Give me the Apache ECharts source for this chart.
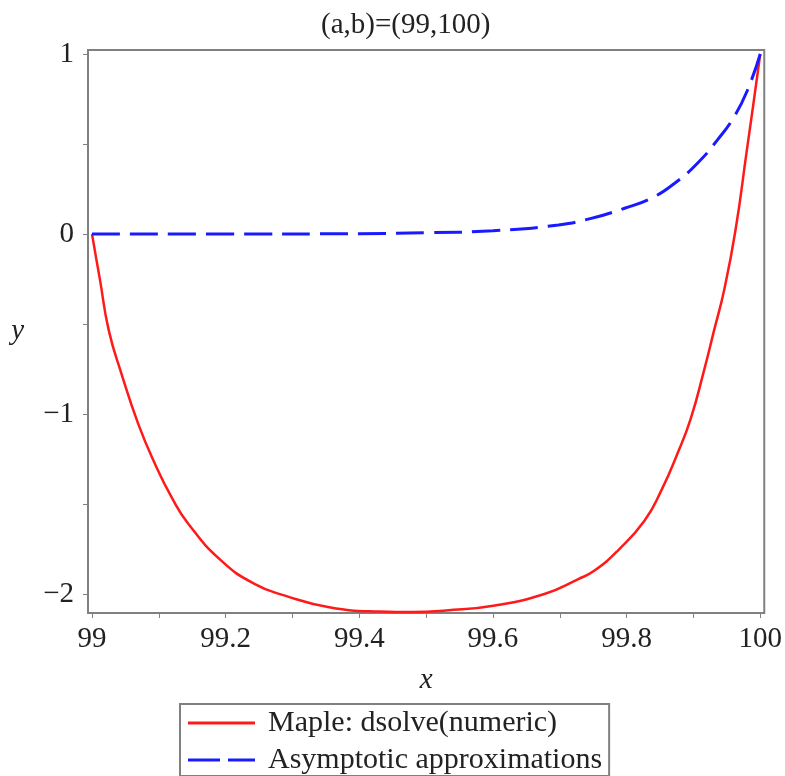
<!DOCTYPE html>
<html>
<head>
<meta charset="utf-8">
<script src="https://cdn.jsdelivr.net/npm/echarts@6/dist/echarts.min.js"></script>
<style>
  html, body { margin: 0; padding: 0; background: #fff; }
</style>
</head>
<body>
<div id="chart" style="width: 785px;height:776px;"></div>
<script>
// values
var redX = [99, 99.006, 99.012, 99.025, 99.044, 99.069, 99.094, 99.119, 99.144, 99.193, 99.243, 99.29, 99.355, 99.43, 99.48, 99.53, 99.603, 99.678, 99.727, 99.752, 99.787, 99.827, 99.852, 99.876, 99.896, 99.916, 99.931, 99.946, 99.963, 99.98, 99.99, 100]
var redY = [0, -0.13, -0.256, -0.534, -0.775, -1.053, -1.275, -1.461, -1.609, -1.813, -1.943, -2.01, -2.073, -2.097, -2.1, -2.091, -2.063, -1.998, -1.918, -1.869, -1.758, -1.591, -1.424, -1.22, -1.025, -0.756, -0.534, -0.311, 0.022, 0.467, 0.73, 1]
var blueX = [99, 99.2, 99.4, 99.5, 99.6, 99.698, 99.747, 99.797, 99.837, 99.872, 99.906, 99.936, 99.961, 99.981, 100]
var blueY = [0, 0, 0.002, 0.007, 0.018, 0.05, 0.087, 0.143, 0.199, 0.282, 0.393, 0.523, 0.652, 0.8, 1]
var xTicks = [99, 99.1, 99.2, 99.3, 99.4, 99.5, 99.6, 99.7, 99.8, 99.9, 100]
var xLabels = [99, 99.2, 99.4, 99.6, 99.8, 100]
var yTicks = [-2, -1.5, -1, -0.5, 0, 0.5, 1]
var yLabels = [-2, -1, 0, 1]

function pairs(xs, ys) {
  var out = []
  for (var i = 0; i < xs.length; i++) {
    out.push([xs[i], ys[i]])
  }
  return out
}

var font = 'Liberation Serif'
var chart = echarts.init(document.getElementById('chart'))
var option = {
  animation: false,
  title: {
    text: '(a,b)=(99,100)',
    left: 316,
    top: 6,
    textStyle: { fontFamily: font, fontSize: 29, fontWeight: 'normal', color: '#222' }
  },
  grid: {
    left: 88, right: 18, top: 50, bottom: 163,
    show: true,
    borderColor: '#808080',
    borderWidth: 2
  },
  legend: {
    orient: 'vertical',
    left: 180,
    top: 704,
    padding: [4, 0, 1, 8],
    itemGap: 7,
    itemWidth: 67,
    itemHeight: 14,
    borderColor: '#808080',
    borderWidth: 2,
    borderRadius: 0,
    textStyle: { fontFamily: font, fontSize: 30, lineHeight: 28, color: '#222', padding: [0, 7, 0, 8] },
    data: [
      { name: 'Maple: dsolve(numeric)', icon: 'path://M0,0h67v3h-67z' },
      { name: 'Asymptotic approximations', icon: 'path://M0,0h32v3h-32z M40,0h27v3h-27z' }
    ]
  },
  xAxis: {
    type: 'value',
    min: 98.994,
    max: 100.006,
    name: 'x',
    nameLocation: 'middle',
    nameGap: 53,
    nameTextStyle: { fontFamily: font, fontSize: 29, fontStyle: 'italic', color: '#222' },
    axisLine: { show: false, onZero: false },
    splitLine: { show: false },
    axisTick: { show: true, length: 5, customValues: xTicks, lineStyle: { color: '#808080', width: 1 } },
    axisLabel: {
      customValues: xLabels,
      margin: 12,
      fontFamily: font, fontSize: 29, color: '#222'
    }
  },
  yAxis: {
    type: 'value',
    min: -2.105,
    max: 1.022,
    name: 'y',
    nameLocation: 'middle',
    nameRotate: 0,
    nameGap: 64,
    nameTextStyle: { fontFamily: font, fontSize: 29, fontStyle: 'italic', color: '#222' },
    axisLine: { show: false, onZero: false },
    splitLine: { show: false },
    axisTick: { show: true, length: 5, customValues: yTicks, lineStyle: { color: '#808080', width: 1 } },
    axisLabel: {
      customValues: yLabels,
      margin: 14,
      fontFamily: font, fontSize: 29, color: '#222',
      formatter: function(v) {
        return v < 0 ? '\u2212' + Math.abs(v) : String(v)
      }
    }
  },
  series: [
    {
      name: 'Maple: dsolve(numeric)',
      type: 'line',
      data: pairs(redX, redY),
      smooth: 0.5,
      symbol: 'none',
      lineStyle: { color: '#ff1a1a', width: 2.5 },
      itemStyle: { color: '#ff1a1a' }
    },
    {
      name: 'Asymptotic approximations',
      type: 'line',
      data: pairs(blueX, blueY),
      smooth: 0.5,
      symbol: 'none',
      lineStyle: { color: '#1a1aff', width: 3, type: [28, 10] },
      itemStyle: { color: '#1a1aff' }
    }
  ]
}
chart.setOption(option)
</script>
</body>
</html>
